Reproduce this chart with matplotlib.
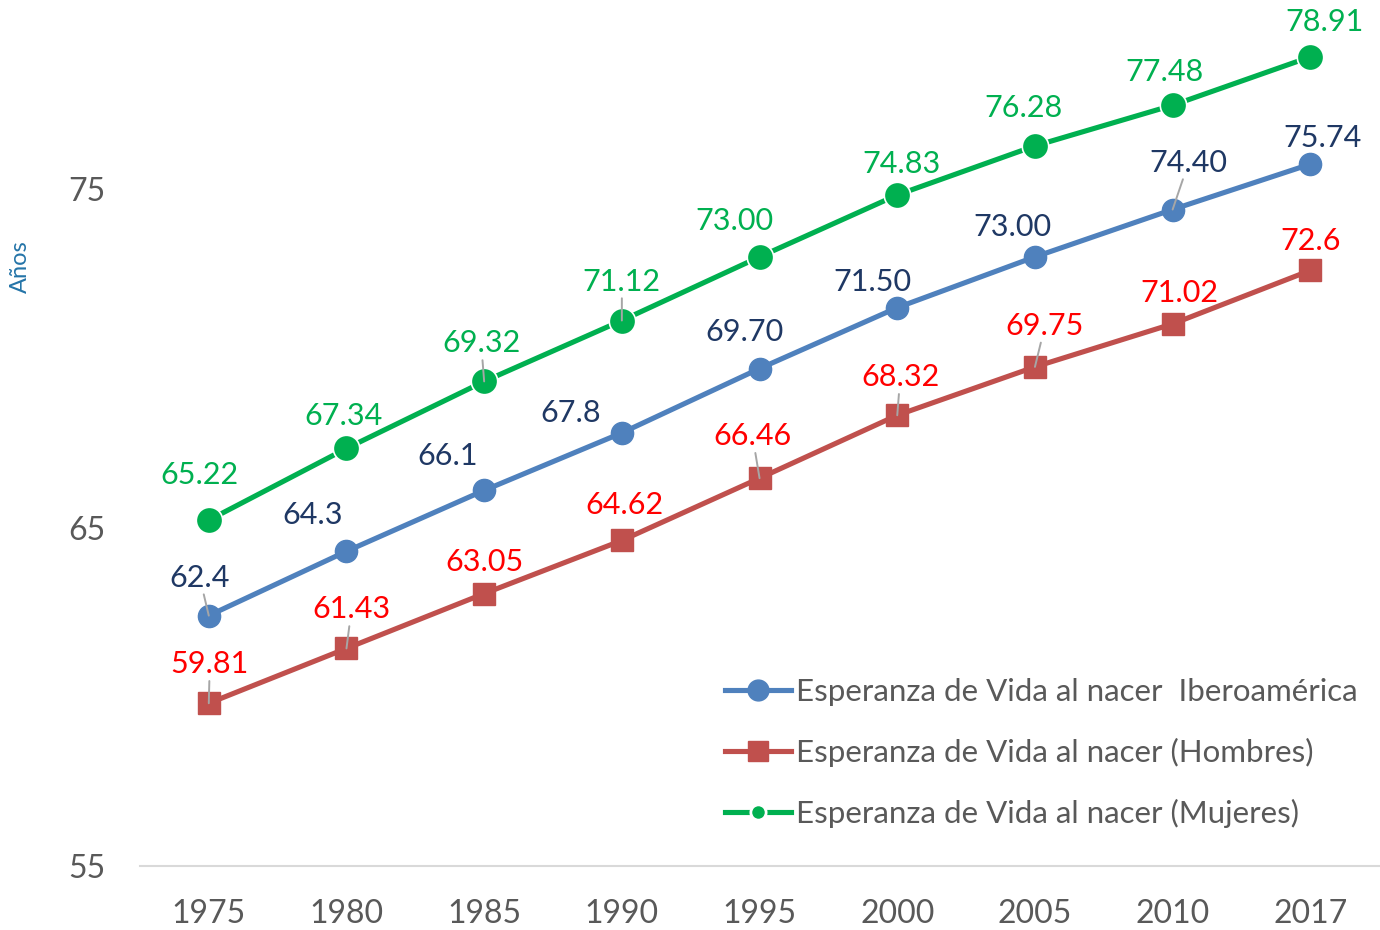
"""
Esperanza de vida al nacer, Iberoamérica 1975-2017
"""
import matplotlib
matplotlib.use("Agg")
from matplotlib import pyplot as plt
from matplotlib.lines import Line2D

# datos
anios = ["1975", "1980", "1985", "1990", "1995", "2000", "2005", "2010", "2017"]
ibero = [62.4, 64.3, 66.1, 67.8, 69.70, 71.50, 73.00, 74.40, 75.74]
hombres = [59.81, 61.43, 63.05, 64.62, 66.46, 68.32, 69.75, 71.02, 72.6]
mujeres = [65.22, 67.34, 69.32, 71.12, 73.00, 74.83, 76.28, 77.48, 78.91]
ibero_txt = ["62.4", "64.3", "66.1", "67.8", "69.70", "71.50", "73.00", "74.40", "75.74"]
hombres_txt = ["59.81", "61.43", "63.05", "64.62", "66.46", "68.32", "69.75", "71.02", "72.6"]
mujeres_txt = ["65.22", "67.34", "69.32", "71.12", "73.00", "74.83", "76.28", "77.48", "78.91"]
nombres = ["Esperanza de Vida al nacer  Iberoamérica",
           "Esperanza de Vida al nacer (Hombres)",
           "Esperanza de Vida al nacer (Mujeres)"]

plt.rcParams['font.family'] = ['Lato', 'DejaVu Sans']
gris = "#595959"

fig = plt.figure(figsize=(13.8, 9.3), dpi=100)
ax = fig.add_axes([0.1014, 0.0688, 0.898, 0.9097])
x = range(len(anios))

ax.plot(x, ibero, color="#4F81BD", lw=3.7, marker="o", ms=16, zorder=3)
ax.plot(x, hombres, color="#C0504D", lw=3.7, marker="s", ms=16, zorder=3)
ax.plot(x, mujeres, color="#00B050", lw=3.7, marker="o", ms=19,
        mec="white", mew=1.2, zorder=3)

# desplazamiento de etiquetas (pixeles) y lineas guia
off_ibero = [(-9, 38), (-34, 36), (-37, 34), (-51, 20), (-15, 37), (-25, 26), (-23, 30), (16, 47), (12, 26)]
off_homb = [(1, 39), (5, 39), (0, 32), (3, 35), (-7, 42), (3, 38), (10, 41), (7, 31), (0, 29)]
off_muj = [(-9, 45), (-3, 32), (-3, 38), (0, 39), (-25, 36), (4, 31), (-11, 38), (-8, 33), (14, 35)]
guia_ibero = [0, 7]
guia_homb = [0, 1, 4, 5, 6]
guia_muj = [2, 3]

def etiquetas(vals, txts, offs, guias, color):
    for i, (v, t, o) in enumerate(zip(vals, txts, offs)):
        props = None
        if i in guias:
            props = dict(arrowstyle="-", color="#A6A6A6", lw=1.4, shrinkA=0, shrinkB=0)
        ax.annotate(t, (i, v), xytext=o, textcoords="offset pixels",
                    ha="center", va="center", fontsize=22, color=color,
                    arrowprops=props, zorder=4)

etiquetas(ibero, ibero_txt, off_ibero, guia_ibero, "#1F3864")
etiquetas(hombres, hombres_txt, off_homb, guia_homb, "#FF0000")
etiquetas(mujeres, mujeres_txt, off_muj, guia_muj, "#00B050")

ax.set_xlim(-0.5, len(anios) - 0.5)
ax.set_ylim(55, 80)
ax.set_yticks([55, 65, 75])
ax.set_xticks(list(x))
ax.set_xticklabels(anios)
ax.tick_params(axis="both", length=0, labelsize=23, labelcolor=gris)
ax.tick_params(axis="y", pad=25)
ax.tick_params(axis="x", pad=24)
for s in ["top", "right", "left"]:
    ax.spines[s].set_visible(False)
ax.spines["bottom"].set_color("#D9D9D9")
ax.spines["bottom"].set_linewidth(1.5)

fig.text(0.0145, 0.713, "Años", rotation=90, ha="center", va="center",
         fontsize=17, color="#2474A8")

handles = [
    Line2D([], [], color="#4F81BD", lw=3.7, marker="o", ms=15),
    Line2D([], [], color="#C0504D", lw=3.7, marker="s", ms=15),
    Line2D([], [], color="#00B050", lw=3.7, marker="o", ms=11, mec="white", mew=2),
]
leg = fig.legend(handles, nombres, loc="upper left", bbox_to_anchor=(0.5254, 0.2705),
                 frameon=False, fontsize=22.5, handlelength=2.1, handletextpad=0.16,
                 labelspacing=1.02, borderpad=0, borderaxespad=0)
for t in leg.get_texts():
    t.set_color(gris)

plt.savefig("out.png", dpi=100)
